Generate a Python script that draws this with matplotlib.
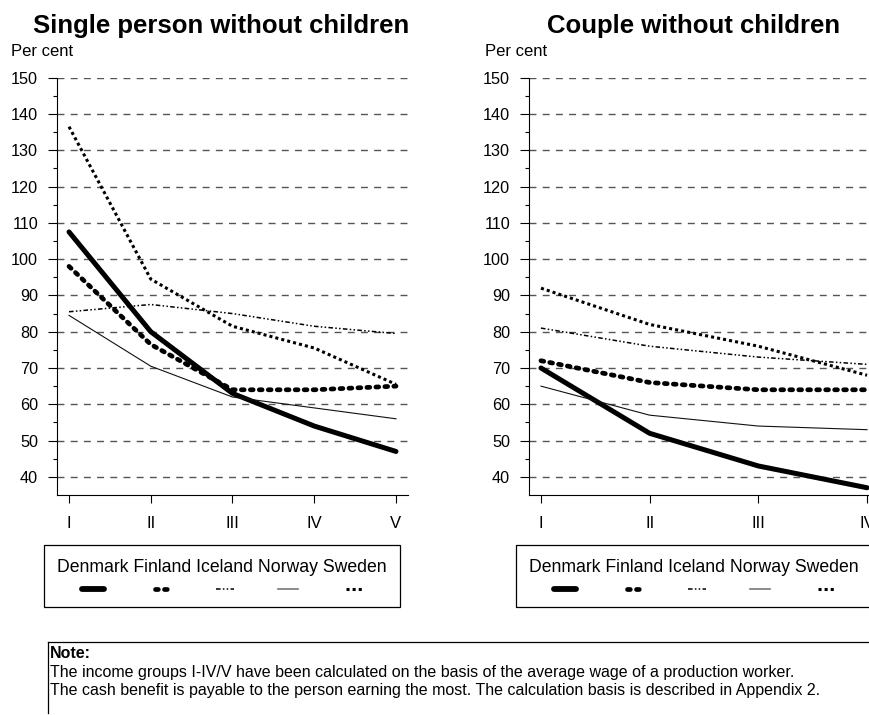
import matplotlib
matplotlib.use('Agg')
import matplotlib.pyplot as plt
from matplotlib.lines import Line2D
from matplotlib.patches import Rectangle

plt.rcParams['font.family'] = ['Liberation Sans', 'DejaVu Sans']

# ---------------- data ----------------
countries = ['Denmark', 'Finland', 'Iceland', 'Norway', 'Sweden']

groups_single = ['I', 'II', 'III', 'IV', 'V']
single_denmark = [107.5, 80, 63, 54, 47]
single_finland = [98, 76.5, 64, 64, 65]
single_iceland = [85.5, 87.5, 85, 81.5, 79.5]
single_norway = [84.5, 70.5, 62, 59, 56]
single_sweden = [136.5, 94.5, 81.5, 75.5, 65.5]

groups_couple = ['I', 'II', 'III', 'IV']
couple_denmark = [70, 52, 43, 37]
couple_finland = [72, 66, 64, 64]
couple_iceland = [81, 76, 73, 71]
couple_norway = [65, 57, 54, 53]
couple_sweden = [92, 82, 76, 68]

yticks = [40, 50, 60, 70, 80, 90, 100, 110, 120, 130, 140, 150]
yminor = [45, 55, 65, 75, 85, 95, 105, 115, 125, 135, 145]

title_single = 'Single person without children'
title_couple = 'Couple without children'
ylabel = 'Per cent'
note_head = 'Note:'
note_lines = ['The income groups I-IV/V have been calculated on the basis of the average wage of a production worker.',
              'The cash benefit is payable to the person earning the most. The calculation basis is described in Appendix 2.']

# ---------------- styles ----------------
styles = {
    'Denmark': dict(color='black', lw=3.6, ls='-', solid_capstyle='round', solid_joinstyle='round'),
    'Finland': dict(color='black', lw=3.4, ls=(0, (0.6, 1.3)), dash_capstyle='round'),
    'Iceland': dict(color='black', lw=1.1, ls=(0, (3, 1.5, 1, 1.5, 1, 1.5))),
    'Norway': dict(color='#111111', lw=0.8, ls='-'),
    'Sweden': dict(color='black', lw=2.2, ls=(0, (1, 1))),
}
legend_len = {'Denmark': 22, 'Finland': 14, 'Iceland': 18, 'Norway': 20, 'Sweden': 18}

W, H = 870, 715
fig = plt.figure(figsize=(W / 100, H / 100), dpi=100)


def fx(px):
    return px / W


def fy(py):
    return 1 - py / H


ax_top, ax_bot = 77.7, 495


def make_axes(left_px, right_px, xlim, groups, data):
    ax = fig.add_axes([fx(left_px), fy(ax_bot), (right_px - left_px) / W, (ax_bot - ax_top) / H])
    ax.set_xlim(*xlim)
    ax.set_ylim(35, 150)
    x = list(range(len(groups)))
    for c, vals in zip(countries, data):
        ax.plot(x, vals, clip_on=False, zorder=3, **styles[c])
    ax.set_xticks(x)
    ax.set_xticklabels(groups)
    ax.set_yticks(yticks)
    ax.set_yticks(yminor, minor=True)
    ax.tick_params(axis='y', which='major', length=6.5, width=0.8, direction='out', labelsize=11.7, pad=7)
    ax.tick_params(axis='y', which='minor', length=3, width=0.8, direction='out')
    ax.tick_params(axis='x', which='major', length=5.8, width=0.8, direction='out', labelsize=12, pad=9)
    for s in ['top', 'right']:
        ax.spines[s].set_visible(False)
    for s in ['left', 'bottom']:
        ax.spines[s].set_linewidth(0.8)
    ax.yaxis.grid(True, which='major', ls=(0, (5, 4.5)), color='#555555', lw=1.0)
    ax.set_axisbelow(True)
    return ax


ax1 = make_axes(57, 408, (-0.147, 4.147), groups_single,
                [single_denmark, single_finland, single_iceland, single_norway, single_sweden])
ax2 = make_axes(529, 879, (-0.11, 3.11), groups_couple,
                [couple_denmark, couple_finland, couple_iceland, couple_norway, couple_sweden])

# titles and y labels
fig.text(fx(221.5), fy(33), title_single, ha='center', va='baseline', fontsize=18.5, fontweight='bold')
fig.text(fx(694), fy(33), title_couple, ha='center', va='baseline', fontsize=18.5, fontweight='bold')
fig.text(fx(11), fy(56), ylabel, ha='left', va='baseline', fontsize=12)
fig.text(fx(485), fy(56), ylabel, ha='left', va='baseline', fontsize=12)

# custom legends (handle under each label)
renderer = fig.canvas.get_renderer()
FS_LEG = 12.7


def draw_legend(box_left):
    box_w, box_top, box_bot = 356, 545, 607
    fig.patches.append(Rectangle((fx(box_left), fy(box_bot)), box_w / W, (box_bot - box_top) / H,
                                 transform=fig.transFigure, fill=False, ec='black', lw=0.9, clip_on=False))
    cx = box_left + box_w / 2
    label = ' '.join(countries)
    t = fig.text(fx(cx), fy(572), label, ha='center', va='baseline', fontsize=FS_LEG)
    x0 = t.get_window_extent(renderer).x0
    for i, c in enumerate(countries):
        tmp = fig.text(0, 0, ' '.join(countries[:i + 1]), fontsize=FS_LEG)
        wpre = tmp.get_window_extent(renderer).width
        tmp.remove()
        tmp = fig.text(0, 0, c, fontsize=FS_LEG)
        wc = tmp.get_window_extent(renderer).width
        tmp.remove()
        center = x0 + wpre - wc / 2
        L = legend_len[c]
        st = dict(styles[c])
        if c == 'Denmark':
            st['lw'] = 4.2
        if c == 'Norway':
            st['color'] = '#777777'
            st['lw'] = 1.2
        fig.lines.append(Line2D([fx(center - L / 2), fx(center + L / 2)], [fy(589), fy(589)],
                                transform=fig.transFigure, **st))


draw_legend(44)
draw_legend(516)

# note box
fig.lines.append(Line2D([fx(48), fx(870)], [fy(642), fy(642)], transform=fig.transFigure, color='black', lw=0.9))
fig.lines.append(Line2D([fx(48), fx(48)], [fy(642), fy(713)], transform=fig.transFigure, color='black', lw=0.9))
fig.text(fx(50), fy(658), note_head, ha='left', va='baseline', fontsize=11.5, fontweight='bold')
fig.text(fx(50), fy(677), note_lines[0], ha='left', va='baseline', fontsize=11.5)
fig.text(fx(50), fy(695), note_lines[1], ha='left', va='baseline', fontsize=11.5)

fig.savefig('out.png', dpi=100)
